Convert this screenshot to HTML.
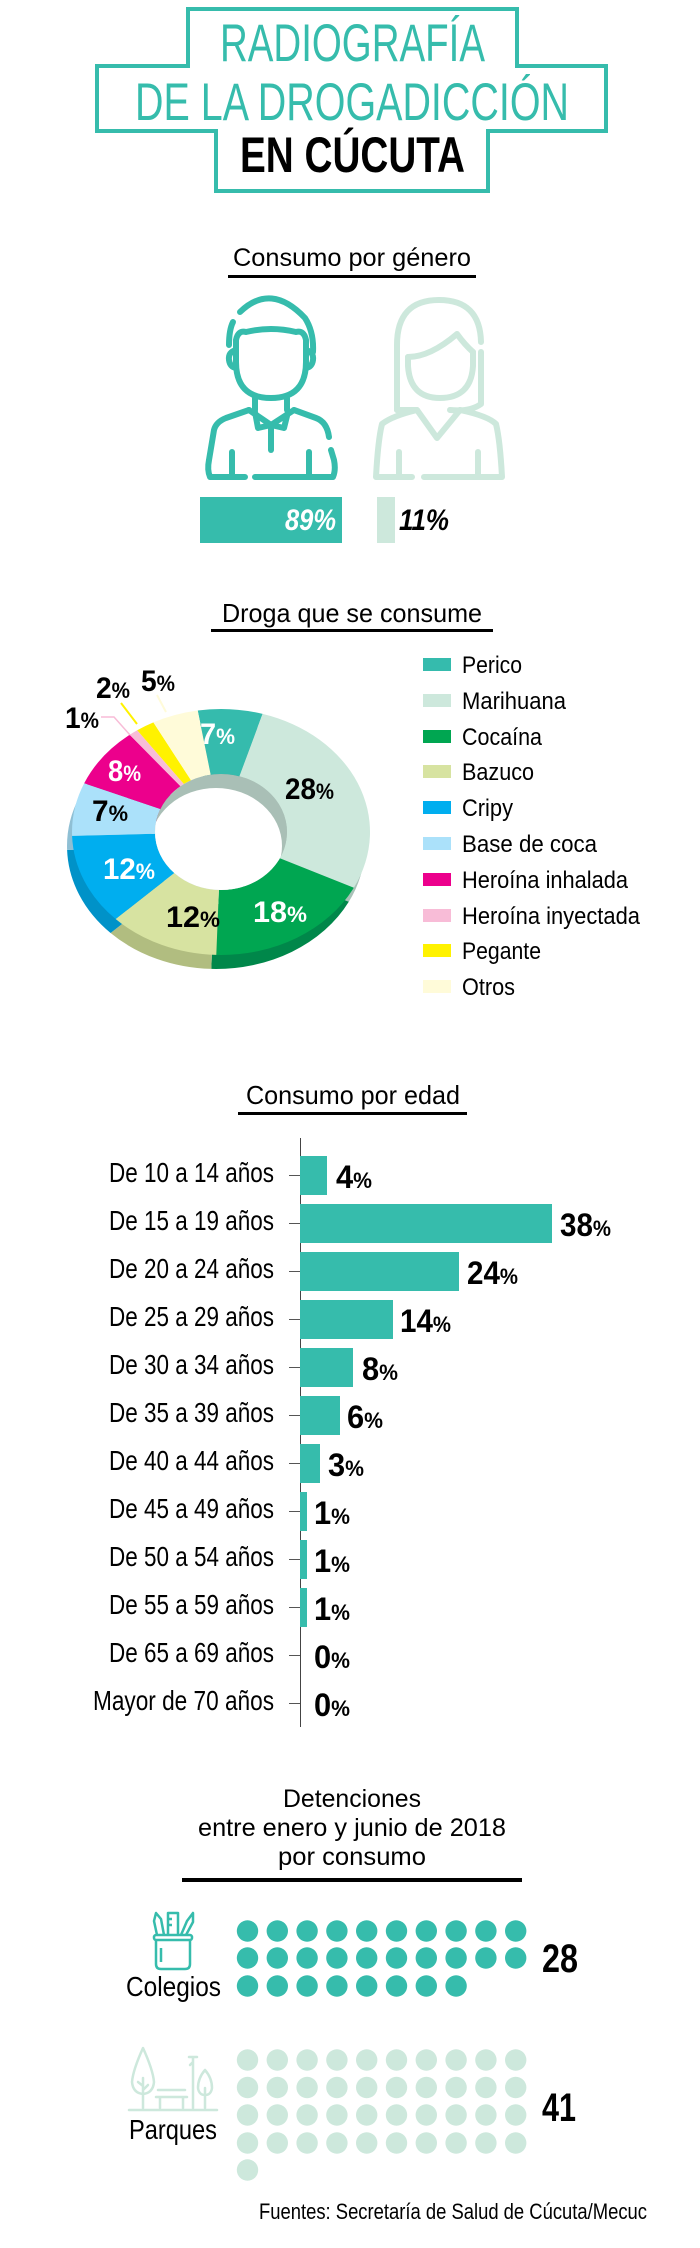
<!DOCTYPE html>
<html><head><meta charset="utf-8"><style>
html,body{margin:0;padding:0;background:#fff;width:700px;height:2248px;overflow:hidden}
svg{display:block}
text{font-family:"Liberation Sans",sans-serif}
</style></head><body>
<svg width="700" height="2248" viewBox="0 0 700 2248" xmlns="http://www.w3.org/2000/svg">
<!-- Title frame -->
<path d="M188 9 H517 V66 H606 V131 H488 V191 H216 V131 H97 V66 H188 Z" fill="none" stroke="#36bcac" stroke-width="4"/>
<text x="220" y="61" font-size="53" fill="#36bcac" textLength="265" lengthAdjust="spacingAndGlyphs">RADIOGRAFÍA</text>
<text x="135" y="120" font-size="53" fill="#36bcac" textLength="434" lengthAdjust="spacingAndGlyphs">DE LA DROGADICCIÓN</text>
<text x="240" y="172" font-size="50" font-weight="bold" fill="#000" textLength="225" lengthAdjust="spacingAndGlyphs">EN CÚCUTA</text>

<!-- Consumo por genero -->
<text x="233" y="266" font-size="25" fill="#000" textLength="238" lengthAdjust="spacingAndGlyphs">Consumo por género</text>
<rect x="228" y="275" width="248" height="3" fill="#000"/>
<g fill="none" stroke="#36bcac" stroke-width="6" stroke-linecap="round" stroke-linejoin="round">
 <path d="M240 312 Q271 282 305 318 Q314 332 313 352"/>
 <path d="M233 322 Q229 330 229 345"/>
 <path d="M236 350 Q228 352 229 360 Q230 367 236 368"/>
 <path d="M306 350 Q314 352 313 360 Q312 367 306 368"/>
 <path d="M236 340 L236 362 Q236 398 271 398 Q306 398 306 362 L306 340 Q304 330 296 332 Q271 326 246 332 Q238 330 236 340 Z"/>
 <path d="M255 398 L255 410 M287 398 L287 410"/>
 <path d="M249 410 L271 425 L294 410 M255 412 L258 428 L271 425 L284 428 L288 412"/>
 <path d="M271 428 L271 450"/>
 <path d="M245 477 L210 477 Q207 470 209 460 L214 430 Q216 422 226 418 L249 410"/>
 <path d="M255 477 L333 477 Q336 470 334 460 L331 450"/>
 <path d="M329 437 Q327 422 316 418 L294 410"/>
 <path d="M232 452 L232 477 M309 452 L309 477"/>
</g>
<g fill="none" stroke="#cde8dc" stroke-width="6" stroke-linecap="round" stroke-linejoin="round">
 <path d="M397 410 L397 345 Q397 300 439 300 Q480 300 481 342"/>
 <path d="M481 352 L481 404 Q470 412 450 410"/>
 <path d="M408 357 Q430 357 457 334 Q465 345 473 352"/>
 <path d="M408 357 L408 366 Q410 398 440 398 Q471 398 473 366 L473 352"/>
 <path d="M397 410 L417 410 L437 438 L460 410"/>
 <path d="M417 410 Q392 416 382 424 Q378 440 376 477 L412 477"/>
 <path d="M460 410 Q488 416 496 424 Q500 440 502 477 L424 477"/>
 <path d="M399 452 L399 477 M478 452 L478 477"/>
</g>
<rect x="200" y="497" width="142" height="46" fill="#36bcac"/>
<text x="285" y="530" font-size="30" font-weight="bold" font-style="italic" fill="#fff" textLength="51" lengthAdjust="spacingAndGlyphs">89%</text>
<rect x="377" y="497" width="18" height="46" fill="#cde8dc"/>
<text x="399" y="530" font-size="30" font-weight="bold" font-style="italic" fill="#000" textLength="50" lengthAdjust="spacingAndGlyphs">11%</text>

<!-- Droga que se consume -->
<text x="222" y="622" font-size="26" fill="#000" textLength="260" lengthAdjust="spacingAndGlyphs">Droga que se consume</text>
<rect x="211" y="629" width="282" height="3" fill="#000"/>
<g transform="translate(-5,14)">
 <path d="M197.7 710.5 A149 123 0 0 1 262.6 713.9 L239.4 776.3 A66 58 0 0 0 210.7 774.7 Z" fill="#2a9a8d"/>
 <path d="M262.6 713.9 A149 123 0 0 1 353.8 887.8 L279.8 858.3 A66 58 0 0 0 239.4 776.3 Z" fill="#a9c2b8"/>
 <path d="M353.8 887.8 A149 123 0 0 1 216.3 954.9 L218.9 890 A66 58 0 0 0 279.8 858.3 Z" fill="#00874a"/>
 <path d="M216.3 954.9 A149 123 0 0 1 115.6 919 L174.3 873 A66 58 0 0 0 218.9 890 Z" fill="#b1bd80"/>
 <path d="M115.6 919 A149 123 0 0 1 72.1 835.9 L155 833.8 A66 58 0 0 0 174.3 873 Z" fill="#0092c8"/>
 <path d="M72.1 835.9 A149 123 0 0 1 84.2 783.2 L160.4 809 A66 58 0 0 0 155 833.8 Z" fill="#8fbfd4"/>
 <path d="M84.2 783.2 A149 123 0 0 1 129.7 734.8 L180.5 786.2 A66 58 0 0 0 160.4 809 Z" fill="#b80070"/>
</g>
<path d="M197.7 710.5 A149 123 0 0 1 262.6 713.9 L239.4 776.3 A66 58 0 0 0 210.7 774.7 Z" fill="#35bbad"/>
<path d="M262.6 713.9 A149 123 0 0 1 353.8 887.8 L279.8 858.3 A66 58 0 0 0 239.4 776.3 Z" fill="#cde8dc"/>
<path d="M353.8 887.8 A149 123 0 0 1 216.3 954.9 L218.9 890 A66 58 0 0 0 279.8 858.3 Z" fill="#00a651"/>
<path d="M216.3 954.9 A149 123 0 0 1 115.6 919 L174.3 873 A66 58 0 0 0 218.9 890 Z" fill="#d7e3a1"/>
<path d="M115.6 919 A149 123 0 0 1 72.1 835.9 L155 833.8 A66 58 0 0 0 174.3 873 Z" fill="#00aeef"/>
<path d="M72.1 835.9 A149 123 0 0 1 84.2 783.2 L160.4 809 A66 58 0 0 0 155 833.8 Z" fill="#abe1fa"/>
<path d="M84.2 783.2 A149 123 0 0 1 129.7 734.8 L180.5 786.2 A66 58 0 0 0 160.4 809 Z" fill="#ec008c"/>
<path d="M129.7 734.8 A149 123 0 0 1 137.2 730.3 L183.9 784 A66 58 0 0 0 180.5 786.2 Z" fill="#f8bcd7"/>
<path d="M137.2 730.3 A149 123 0 0 1 153.4 722.4 L191 780.3 A66 58 0 0 0 183.9 784 Z" fill="#fff200"/>
<path d="M153.4 722.4 A149 123 0 0 1 197.7 710.5 L210.7 774.7 A66 58 0 0 0 191 780.3 Z" fill="#fffbd9"/>
<clipPath id="hole"><ellipse cx="221" cy="832" rx="66" ry="58"/></clipPath>
<ellipse cx="221" cy="832" rx="66" ry="58" fill="#a9bfb6"/>
<ellipse cx="216" cy="846" rx="66" ry="58" fill="#fff" clip-path="url(#hole)"/>
<g fill="none" stroke-width="1.5">
 <path d="M101 717 L114 717 L130 735" stroke="#f8bcd7"/>
 <path d="M121 703 L137 724" stroke="#fff200" stroke-width="2"/>
 <path d="M157 695 L166 712" stroke="#fffbd9" stroke-width="2"/>
</g>
<g font-weight="bold" font-size="30">
 <text x="200" y="744" fill="#fff" textLength="35" lengthAdjust="spacingAndGlyphs">7<tspan font-size="22">%</tspan></text>
 <text x="285" y="799" fill="#000" textLength="49" lengthAdjust="spacingAndGlyphs">28<tspan font-size="22">%</tspan></text>
 <text x="253" y="922" fill="#fff" textLength="54" lengthAdjust="spacingAndGlyphs">18<tspan font-size="22">%</tspan></text>
 <text x="166" y="927" fill="#000" textLength="54" lengthAdjust="spacingAndGlyphs">12<tspan font-size="22">%</tspan></text>
 <text x="103" y="879" fill="#fff" textLength="52" lengthAdjust="spacingAndGlyphs">12<tspan font-size="22">%</tspan></text>
 <text x="92" y="821" fill="#000" textLength="36" lengthAdjust="spacingAndGlyphs">7<tspan font-size="22">%</tspan></text>
 <text x="108" y="781" fill="#fff" textLength="33" lengthAdjust="spacingAndGlyphs">8<tspan font-size="22">%</tspan></text>
 <text x="65" y="728" fill="#000" textLength="34" lengthAdjust="spacingAndGlyphs">1<tspan font-size="22">%</tspan></text>
 <text x="96" y="698" fill="#000" textLength="34" lengthAdjust="spacingAndGlyphs">2<tspan font-size="22">%</tspan></text>
 <text x="141" y="691" fill="#000" textLength="34" lengthAdjust="spacingAndGlyphs">5<tspan font-size="22">%</tspan></text>
</g>
<!-- legend -->
<g font-size="24" fill="#000">
 <rect x="423" y="658" width="28" height="13" fill="#35bbad"/><text x="462" y="673" textLength="60" lengthAdjust="spacingAndGlyphs">Perico</text>
 <rect x="423" y="694" width="28" height="13" fill="#cde8dc"/><text x="462" y="709" textLength="104" lengthAdjust="spacingAndGlyphs">Marihuana</text>
 <rect x="423" y="730" width="28" height="13" fill="#00a651"/><text x="462" y="745" textLength="80" lengthAdjust="spacingAndGlyphs">Cocaína</text>
 <rect x="423" y="765" width="28" height="13" fill="#d7e3a1"/><text x="462" y="780" textLength="72" lengthAdjust="spacingAndGlyphs">Bazuco</text>
 <rect x="423" y="801" width="28" height="13" fill="#00aeef"/><text x="462" y="816" textLength="51" lengthAdjust="spacingAndGlyphs">Cripy</text>
 <rect x="423" y="837" width="28" height="13" fill="#abe1fa"/><text x="462" y="852" textLength="135" lengthAdjust="spacingAndGlyphs">Base de coca</text>
 <rect x="423" y="873" width="28" height="13" fill="#ec008c"/><text x="462" y="888" textLength="166" lengthAdjust="spacingAndGlyphs">Heroína inhalada</text>
 <rect x="423" y="909" width="28" height="13" fill="#f8bcd7"/><text x="462" y="924" textLength="178" lengthAdjust="spacingAndGlyphs">Heroína inyectada</text>
 <rect x="423" y="944" width="28" height="13" fill="#fff200"/><text x="462" y="959" textLength="79" lengthAdjust="spacingAndGlyphs">Pegante</text>
 <rect x="423" y="980" width="28" height="13" fill="#fffbd9"/><text x="462" y="995" textLength="53" lengthAdjust="spacingAndGlyphs">Otros</text>
</g>

<!-- Consumo por edad -->
<text x="246" y="1104" font-size="26" fill="#000" textLength="214" lengthAdjust="spacingAndGlyphs">Consumo por edad</text>
<rect x="238" y="1112" width="229" height="3" fill="#000"/>
<rect x="300" y="1138" width="1" height="589" fill="#444"/>
<g fill="#36bcac">
 <rect x="300" y="1156" width="27" height="39"/>
 <rect x="300" y="1204" width="252" height="39"/>
 <rect x="300" y="1252" width="159" height="39"/>
 <rect x="300" y="1300" width="93" height="39"/>
 <rect x="300" y="1348" width="53" height="39"/>
 <rect x="300" y="1396" width="40" height="39"/>
 <rect x="300" y="1444" width="20" height="39"/>
 <rect x="300" y="1492" width="7" height="39"/>
 <rect x="300" y="1540" width="7" height="39"/>
 <rect x="300" y="1588" width="7" height="39"/>
</g>
<g fill="#555">
 <rect x="289" y="1175" width="11" height="1"/><rect x="289" y="1223" width="11" height="1"/><rect x="289" y="1271" width="11" height="1"/><rect x="289" y="1319" width="11" height="1"/><rect x="289" y="1367" width="11" height="1"/><rect x="289" y="1415" width="11" height="1"/><rect x="289" y="1463" width="11" height="1"/><rect x="289" y="1511" width="11" height="1"/><rect x="289" y="1559" width="11" height="1"/><rect x="289" y="1607" width="11" height="1"/><rect x="289" y="1655" width="11" height="1"/><rect x="289" y="1703" width="11" height="1"/>
</g>
<g font-size="28" fill="#000" text-anchor="end">
 <text x="274" y="1182" textLength="165" lengthAdjust="spacingAndGlyphs">De 10 a 14 años</text>
 <text x="274" y="1230" textLength="165" lengthAdjust="spacingAndGlyphs">De 15 a 19 años</text>
 <text x="274" y="1278" textLength="165" lengthAdjust="spacingAndGlyphs">De 20 a 24 años</text>
 <text x="274" y="1326" textLength="165" lengthAdjust="spacingAndGlyphs">De 25 a 29 años</text>
 <text x="274" y="1374" textLength="165" lengthAdjust="spacingAndGlyphs">De 30 a 34 años</text>
 <text x="274" y="1422" textLength="165" lengthAdjust="spacingAndGlyphs">De 35 a 39 años</text>
 <text x="274" y="1470" textLength="165" lengthAdjust="spacingAndGlyphs">De 40 a 44 años</text>
 <text x="274" y="1518" textLength="165" lengthAdjust="spacingAndGlyphs">De 45 a 49 años</text>
 <text x="274" y="1566" textLength="165" lengthAdjust="spacingAndGlyphs">De 50 a 54 años</text>
 <text x="274" y="1614" textLength="165" lengthAdjust="spacingAndGlyphs">De 55 a 59 años</text>
 <text x="274" y="1662" textLength="165" lengthAdjust="spacingAndGlyphs">De 65 a 69 años</text>
 <text x="274" y="1710" textLength="181" lengthAdjust="spacingAndGlyphs">Mayor de 70 años</text>
</g>
<g font-size="32" font-weight="bold" fill="#000">
 <text x="336" y="1188" textLength="36" lengthAdjust="spacingAndGlyphs">4<tspan font-size="22">%</tspan></text>
 <text x="560" y="1236" textLength="51" lengthAdjust="spacingAndGlyphs">38<tspan font-size="22">%</tspan></text>
 <text x="467" y="1284" textLength="51" lengthAdjust="spacingAndGlyphs">24<tspan font-size="22">%</tspan></text>
 <text x="400" y="1332" textLength="51" lengthAdjust="spacingAndGlyphs">14<tspan font-size="22">%</tspan></text>
 <text x="362" y="1380" textLength="36" lengthAdjust="spacingAndGlyphs">8<tspan font-size="22">%</tspan></text>
 <text x="347" y="1428" textLength="36" lengthAdjust="spacingAndGlyphs">6<tspan font-size="22">%</tspan></text>
 <text x="328" y="1476" textLength="36" lengthAdjust="spacingAndGlyphs">3<tspan font-size="22">%</tspan></text>
 <text x="314" y="1524" textLength="36" lengthAdjust="spacingAndGlyphs">1<tspan font-size="22">%</tspan></text>
 <text x="314" y="1572" textLength="36" lengthAdjust="spacingAndGlyphs">1<tspan font-size="22">%</tspan></text>
 <text x="314" y="1620" textLength="36" lengthAdjust="spacingAndGlyphs">1<tspan font-size="22">%</tspan></text>
 <text x="314" y="1668" textLength="36" lengthAdjust="spacingAndGlyphs">0<tspan font-size="22">%</tspan></text>
 <text x="314" y="1716" textLength="36" lengthAdjust="spacingAndGlyphs">0<tspan font-size="22">%</tspan></text>
</g>

<!-- Detenciones -->
<g font-size="25" fill="#000">
 <text x="283" y="1807" textLength="138" lengthAdjust="spacingAndGlyphs">Detenciones</text>
 <text x="198" y="1836" textLength="308" lengthAdjust="spacingAndGlyphs">entre enero y junio de 2018</text>
 <text x="278" y="1865" textLength="148" lengthAdjust="spacingAndGlyphs">por consumo</text>
</g>
<rect x="182" y="1878" width="340" height="4" fill="#000"/>
<!-- colegios icon -->
<g fill="none" stroke="#36bcac" stroke-width="2.5" stroke-linejoin="round">
 <rect x="154" y="1935" width="38" height="5" rx="2"/>
 <path d="M156 1940 L156 1964 Q156 1969 161 1969 L185 1969 Q190 1969 190 1964 L190 1940"/>
 <path d="M161 1948 L161 1962"/>
 <path d="M168 1935 L168 1913 L178 1913 L178 1935 M168 1919 L172 1919 M168 1925 L172 1925"/>
 <path d="M157 1935 L154 1921 L156 1913 L161 1919 L164 1935"/>
 <path d="M181 1935 L187 1921 L193 1913 L193 1922 L186 1935"/>
</g>
<text x="126" y="1996" font-size="28" fill="#000" textLength="95" lengthAdjust="spacingAndGlyphs">Colegios</text>
<g fill="#36bcac">
 <circle cx="247.5" cy="1931" r="10.7"/><circle cx="277.3" cy="1931" r="10.7"/><circle cx="307.1" cy="1931" r="10.7"/><circle cx="336.9" cy="1931" r="10.7"/><circle cx="366.7" cy="1931" r="10.7"/><circle cx="396.5" cy="1931" r="10.7"/><circle cx="426.3" cy="1931" r="10.7"/><circle cx="456.1" cy="1931" r="10.7"/><circle cx="485.9" cy="1931" r="10.7"/><circle cx="515.7" cy="1931" r="10.7"/>
 <circle cx="247.5" cy="1958" r="10.7"/><circle cx="277.3" cy="1958" r="10.7"/><circle cx="307.1" cy="1958" r="10.7"/><circle cx="336.9" cy="1958" r="10.7"/><circle cx="366.7" cy="1958" r="10.7"/><circle cx="396.5" cy="1958" r="10.7"/><circle cx="426.3" cy="1958" r="10.7"/><circle cx="456.1" cy="1958" r="10.7"/><circle cx="485.9" cy="1958" r="10.7"/><circle cx="515.7" cy="1958" r="10.7"/>
 <circle cx="247.5" cy="1986" r="10.7"/><circle cx="277.3" cy="1986" r="10.7"/><circle cx="307.1" cy="1986" r="10.7"/><circle cx="336.9" cy="1986" r="10.7"/><circle cx="366.7" cy="1986" r="10.7"/><circle cx="396.5" cy="1986" r="10.7"/><circle cx="426.3" cy="1986" r="10.7"/><circle cx="456.1" cy="1986" r="10.7"/>
</g>
<text x="542" y="1972" font-size="40" font-weight="bold" fill="#000" textLength="36" lengthAdjust="spacingAndGlyphs">28</text>
<!-- parques icon -->
<g fill="none" stroke="#cde8dc" stroke-width="2.5" stroke-linejoin="round" stroke-linecap="round">
 <path d="M143 2048 Q133 2070 132 2082 Q133 2093 143 2094 Q153 2093 154 2082 Q153 2070 143 2048 Z"/>
 <path d="M143 2078 L143 2108 M143 2086 L138 2082 M143 2090 L148 2085"/>
 <path d="M205 2070 Q198 2078 198 2088 Q199 2095 205 2095 Q211 2095 212 2088 Q212 2078 205 2070 Z M205 2088 L205 2108"/>
 <path d="M193 2057 L193 2108 M189 2057 L197 2057 M193 2057 L193 2062 L190 2065"/>
 <path d="M158 2090 L185 2090 M156 2097 L187 2097 M160 2097 L160 2108 M183 2097 L183 2108"/>
 <path d="M129 2110 L217 2110"/>
</g>
<text x="129" y="2139" font-size="28" fill="#000" textLength="88" lengthAdjust="spacingAndGlyphs">Parques</text>
<g fill="#cde8dc">
 <circle cx="247.5" cy="2060" r="10.7"/><circle cx="277.3" cy="2060" r="10.7"/><circle cx="307.1" cy="2060" r="10.7"/><circle cx="336.9" cy="2060" r="10.7"/><circle cx="366.7" cy="2060" r="10.7"/><circle cx="396.5" cy="2060" r="10.7"/><circle cx="426.3" cy="2060" r="10.7"/><circle cx="456.1" cy="2060" r="10.7"/><circle cx="485.9" cy="2060" r="10.7"/><circle cx="515.7" cy="2060" r="10.7"/>
 <circle cx="247.5" cy="2087.5" r="10.7"/><circle cx="277.3" cy="2087.5" r="10.7"/><circle cx="307.1" cy="2087.5" r="10.7"/><circle cx="336.9" cy="2087.5" r="10.7"/><circle cx="366.7" cy="2087.5" r="10.7"/><circle cx="396.5" cy="2087.5" r="10.7"/><circle cx="426.3" cy="2087.5" r="10.7"/><circle cx="456.1" cy="2087.5" r="10.7"/><circle cx="485.9" cy="2087.5" r="10.7"/><circle cx="515.7" cy="2087.5" r="10.7"/>
 <circle cx="247.5" cy="2115" r="10.7"/><circle cx="277.3" cy="2115" r="10.7"/><circle cx="307.1" cy="2115" r="10.7"/><circle cx="336.9" cy="2115" r="10.7"/><circle cx="366.7" cy="2115" r="10.7"/><circle cx="396.5" cy="2115" r="10.7"/><circle cx="426.3" cy="2115" r="10.7"/><circle cx="456.1" cy="2115" r="10.7"/><circle cx="485.9" cy="2115" r="10.7"/><circle cx="515.7" cy="2115" r="10.7"/>
 <circle cx="247.5" cy="2143" r="10.7"/><circle cx="277.3" cy="2143" r="10.7"/><circle cx="307.1" cy="2143" r="10.7"/><circle cx="336.9" cy="2143" r="10.7"/><circle cx="366.7" cy="2143" r="10.7"/><circle cx="396.5" cy="2143" r="10.7"/><circle cx="426.3" cy="2143" r="10.7"/><circle cx="456.1" cy="2143" r="10.7"/><circle cx="485.9" cy="2143" r="10.7"/><circle cx="515.7" cy="2143" r="10.7"/>
 <circle cx="247.5" cy="2170" r="10.7"/>
</g>
<text x="542" y="2121" font-size="40" font-weight="bold" fill="#000" textLength="34" lengthAdjust="spacingAndGlyphs">41</text>
<text x="259" y="2219" font-size="22" fill="#000" textLength="388" lengthAdjust="spacingAndGlyphs">Fuentes: Secretaría de Salud de Cúcuta/Mecuc</text>
</svg>
</body></html>
